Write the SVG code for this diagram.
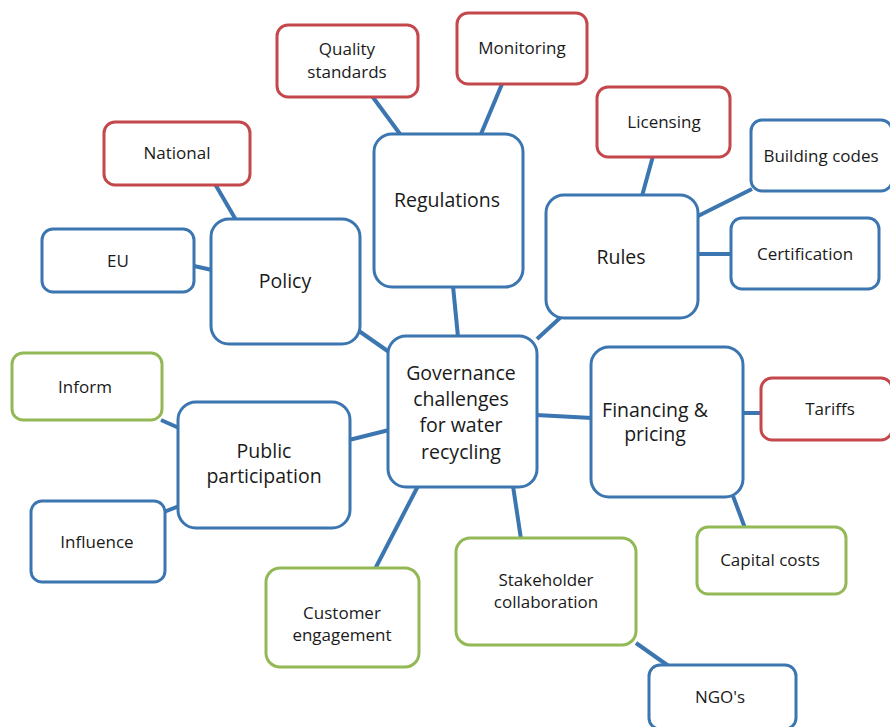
<svg xmlns="http://www.w3.org/2000/svg" width="890" height="727" viewBox="0 0 890 727">
<style>
.n rect{fill:#fff;stroke-width:3}
.b rect{stroke:#3b76b0}
.r rect{stroke:#c4474b}
.g rect{stroke:#93b956}
text{font-family:"Open Sans","Liberation Sans",sans-serif;fill:#1a1a1a;text-anchor:middle;dominant-baseline:central}
.s{font-size:17px}
.L{font-size:19.5px}
#edges line{stroke:#3b76b0;stroke-width:4}
</style>
<rect width="890" height="727" fill="#fff"/>
<g id="edges">
<line x1="372" y1="96" x2="400" y2="134"/>
<line x1="502" y1="84" x2="481" y2="134"/>
<line x1="215" y1="184" x2="236" y2="220"/>
<line x1="194" y1="266" x2="212" y2="270"/>
<line x1="453" y1="286" x2="458" y2="337"/>
<line x1="359" y1="331" x2="389" y2="352"/>
<line x1="561" y1="317" x2="537" y2="339"/>
<line x1="653" y1="156" x2="642" y2="196"/>
<line x1="752" y1="189" x2="698" y2="216"/>
<line x1="732" y1="254" x2="697" y2="254"/>
<line x1="536" y1="415" x2="592" y2="418"/>
<line x1="742" y1="413" x2="762" y2="413"/>
<line x1="733" y1="496" x2="745" y2="528"/>
<line x1="161" y1="420" x2="179" y2="428"/>
<line x1="164" y1="512" x2="179" y2="506"/>
<line x1="349" y1="440" x2="389" y2="430"/>
<line x1="418" y1="486" x2="375" y2="569"/>
<line x1="513" y1="486" x2="521" y2="539"/>
<line x1="636" y1="643" x2="670" y2="667"/>
</g>
<g id="quality" class="n r"><rect x="277" y="25" width="141" height="72" rx="11"/><text class="s" x="347" y="48">Quality</text><text class="s" x="347" y="71">standards</text></g>
<g id="monitoring" class="n r"><rect x="457" y="13" width="130" height="71" rx="11"/><text class="s" x="522" y="47">Monitoring</text></g>
<g id="national" class="n r"><rect x="104" y="122" width="146" height="63" rx="11"/><text class="s" x="177" y="152">National</text></g>
<g id="regulations" class="n b"><rect x="374" y="134" width="149" height="153" rx="18"/><text class="L" x="447" y="199">Regulations</text></g>
<g id="licensing" class="n r"><rect x="597" y="87" width="133" height="70" rx="11"/><text class="s" x="664" y="121">Licensing</text></g>
<g id="building" class="n b"><rect x="751" y="120" width="141" height="71" rx="11"/><text class="s" x="821" y="155">Building codes</text></g>
<g id="rules" class="n b"><rect x="546" y="195" width="152" height="123" rx="18"/><text class="L" x="621" y="256">Rules</text></g>
<g id="certification" class="n b"><rect x="731" y="218" width="148" height="71" rx="11"/><text class="s" x="805" y="253">Certification</text></g>
<g id="eu" class="n b"><rect x="42" y="229" width="152" height="63" rx="11"/><text class="s" x="118" y="260">EU</text></g>
<g id="policy" class="n b"><rect x="211" y="219" width="149" height="125" rx="18"/><text class="L" x="285" y="280">Policy</text></g>
<g id="inform" class="n g"><rect x="12" y="353" width="150" height="67" rx="11"/><text class="s" x="85" y="386">Inform</text></g>
<g id="public" class="n b"><rect x="178" y="402" width="172" height="126" rx="18"/><text class="L" x="264" y="450">Public</text><text class="L" x="264" y="475">participation</text></g>
<g id="influence" class="n b"><rect x="31" y="501" width="134" height="81" rx="11"/><text class="s" x="97" y="541">Influence</text></g>
<g id="governance" class="n b"><rect x="388" y="336" width="149" height="151" rx="18"/><text class="L" x="461" y="372">Governance</text><text class="L" x="461" y="398">challenges</text><text class="L" x="461" y="424">for water</text><text class="L" x="461" y="451">recycling</text></g>
<g id="financing" class="n b"><rect x="591" y="347" width="152" height="150" rx="18"/><text class="L" x="655" y="409">Financing &amp;</text><text class="L" x="655" y="433.5">pricing</text></g>
<g id="tariffs" class="n r"><rect x="761" y="378" width="131" height="62" rx="11"/><text class="s" x="830" y="408">Tariffs</text></g>
<g id="capital" class="n g"><rect x="697" y="527" width="149" height="67" rx="11"/><text class="s" x="770" y="559">Capital costs</text></g>
<g id="customer" class="n g"><rect x="266" y="568" width="153" height="99" rx="14"/><text class="s" x="342" y="612">Customer</text><text class="s" x="342" y="634">engagement</text></g>
<g id="stakeholder" class="n g"><rect x="456" y="538" width="180" height="107" rx="14"/><text class="s" x="546" y="579">Stakeholder</text><text class="s" x="546" y="601">collaboration</text></g>
<g id="ngo" class="n b"><rect x="649" y="665" width="147" height="64" rx="11"/><text class="s" x="720" y="696">NGO's</text></g>
</svg>
